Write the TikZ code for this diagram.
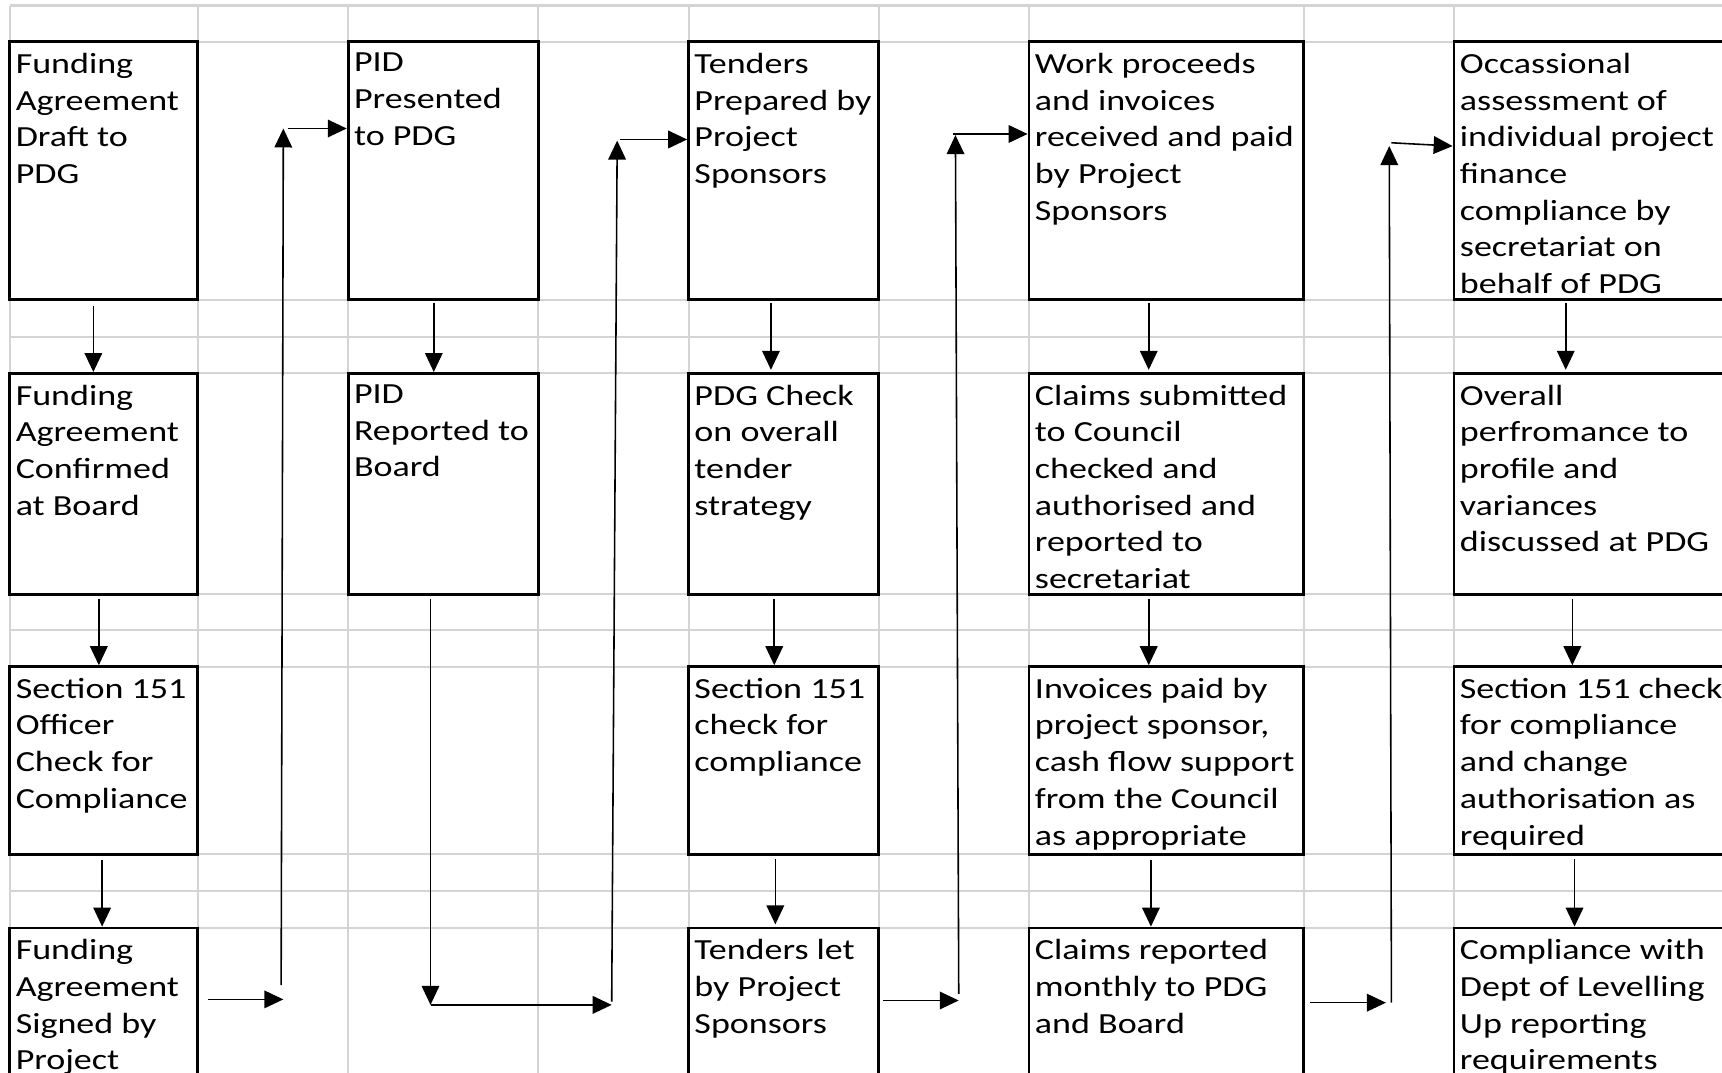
\documentclass[tikz,border=0pt]{standalone}
\usepackage{fontspec}
\setmainfont{Carlito}[FakeStretch=1.235]
\usetikzlibrary{arrows.meta,calc,fit}

\newcommand{\cellfont}{\fontsize{8.3}{10.44}\selectfont}

\begin{document}
\begin{tikzpicture}[x=0.10982mm,y=-0.10982mm,
  sheet/.style={draw=black!17,line width=0.6pt},
  box/.style={draw,line width=0.8pt,fill=white,inner sep=0pt},
  txt/.style={anchor=north west,inner sep=0pt,align=left,font=\cellfont,execute at begin node=\strut},
  arr/.style={-{Triangle[length=5.4pt,width=5pt]},line width=0.45pt}]
\useasboundingbox (0,0) rectangle (1568,977);
\clip (0,0) rectangle (1568,977);

% spreadsheet grid
\foreach \gx in {9,180,317,490,627,800,937,1187,1324}
  \draw[sheet] (\gx,5) -- (\gx,1000);
\foreach \gy in {5,38,273,306.5,340,541,574,607,778,811,845}
  \draw[sheet] (9,\gy) -- (1640,\gy);

% column 1
\node[box,fit={(9,38)(180,273)}] (draft) {};
\node[txt] (draft-t) at ([shift={(6,11)}]draft.north west) {Funding\\Agreement\\Draft to\\PDG};
\node[box,fit={(9,340)(180,541)}] (confirmed) {};
\node[txt] (confirmed-t) at ([shift={(6,11)}]confirmed.north west) {Funding\\Agreement\\Confirmed\\at Board};
\node[box,fit={(9,607)(180,778)}] (officer) {};
\node[txt] (officer-t) at ([shift={(6,11)}]officer.north west) {Section 151\\Officer\\Check for\\Compliance};
\node[box,fit={(9,845)(180,1090)}] (signed) {};
\node[txt] (signed-t) at ([shift={(6,11)}]signed.north west) {Funding\\Agreement\\Signed by\\Project};

% column 2
\node[box,fit={(317,38)(490,273)}] (presented) {};
\node[txt] (presented-t) at ([shift={(6,11)}]presented.north west) {PID\\Presented\\to PDG};
\node[box,fit={(317,340)(490,541)}] (reported) {};
\node[txt] (reported-t) at ([shift={(6,11)}]reported.north west) {PID\\Reported to\\Board};

% column 3
\node[box,fit={(627,38)(800,273)}] (prepared) {};
\node[txt] (prepared-t) at ([shift={(6,11)}]prepared.north west) {Tenders\\Prepared by\\Project\\Sponsors};
\node[box,fit={(627,340)(800,541)}] (strategy) {};
\node[txt] (strategy-t) at ([shift={(6,11)}]strategy.north west) {PDG Check\\on overall\\tender\\strategy};
\node[box,fit={(627,607)(800,778)}] (tcheck) {};
\node[txt] (tcheck-t) at ([shift={(6,11)}]tcheck.north west) {Section 151\\check for\\compliance};
\node[box,fit={(627,845)(800,1090)}] (let) {};
\node[txt] (let-t) at ([shift={(6,11)}]let.north west) {Tenders let\\by Project\\Sponsors};

% column 4
\node[box,fit={(937,38)(1187,273)}] (proceeds) {};
\node[txt] (proceeds-t) at ([shift={(6,11)}]proceeds.north west) {Work proceeds\\and invoices\\received and paid\\by Project\\Sponsors};
\node[box,fit={(937,340)(1187,541)}] (claims) {};
\node[txt] (claims-t) at ([shift={(6,11)}]claims.north west) {Claims submitted\\to Council\\checked and\\authorised and\\reported to\\secretariat};
\node[box,fit={(937,607)(1187,778)}] (invoices) {};
\node[txt] (invoices-t) at ([shift={(6,11)}]invoices.north west) {Invoices paid by\\project sponsor,\\cash flow support\\from the Council\\as appropriate};
\node[box,fit={(937,845)(1187,1090)}] (monthly) {};
\node[txt] (monthly-t) at ([shift={(6,11)}]monthly.north west) {Claims reported\\monthly to PDG\\and Board};

% column 5
\node[box,fit={(1324,38)(1640,273)}] (assess) {};
\node[txt] (assess-t) at ([shift={(6,11)}]assess.north west) {Occassional\\assessment of\\individual project\\finance\\compliance by\\secretariat on\\behalf of PDG};
\node[box,fit={(1324,340)(1640,541)}] (overall) {};
\node[txt] (overall-t) at ([shift={(6,11)}]overall.north west) {Overall\\perfromance to\\profile and\\variances\\discussed at PDG};
\node[box,fit={(1324,607)(1640,778)}] (scheck) {};
\node[txt] (scheck-t) at ([shift={(6,11)}]scheck.north west) {Section 151 check\\for compliance\\and change\\authorisation as\\required};
\node[box,fit={(1324,845)(1640,1090)}] (dlu) {};
\node[txt] (dlu-t) at ([shift={(6,11)}]dlu.north west) {Compliance with\\Dept of Levelling\\Up reporting\\requirements};

% down the columns
\draw[arr] ([shift={(-9.5,4)}]draft.south) -- ([shift={(-9.5,0)}]confirmed.north);
\draw[arr] ([shift={(-4.5,3)}]confirmed.south) -- ([shift={(-4.5,0)}]officer.north);
\draw[arr] ([shift={(-1.5,4)}]officer.south) -- ([shift={(-1.5,0)}]signed.north);
\draw[arr] ([shift={(-8.5,2)}]presented.south) -- ([shift={(-8.5,0)}]reported.north);
\draw[arr] ([shift={(-11.5,2)}]prepared.south) -- ([shift={(-11.5,-2)}]strategy.north);
\draw[arr] ([shift={(-8.5,3)}]strategy.south) -- ([shift={(-8.5,0)}]tcheck.north);
\draw[arr] ([shift={(-7.5,3)}]tcheck.south) -- ([shift={(-7.5,-2)}]let.north);
\draw[arr] ([shift={(-16,2)}]proceeds.south) -- ([shift={(-16,-2)}]claims.north);
\draw[arr] ([shift={(-16,3)}]claims.south) -- ([shift={(-16,0)}]invoices.north);
\draw[arr] ([shift={(-14,4)}]invoices.south) -- ([shift={(-14,0)}]monthly.north);
\draw[arr] ([shift={(103,2)}]assess.south west) -- ([shift={(103,-2)}]overall.north west);
\draw[arr] ([shift={(109,3)}]overall.south west) -- ([shift={(109,0)}]scheck.north west);
\draw[arr] ([shift={(111,3)}]scheck.south west) -- ([shift={(111,0)}]dlu.north west);

% across to the next column
\coordinate (a1) at (258,910);
\coordinate (a2) at (256,897);
\coordinate (a3) at (258,117);
\coordinate (a4) at (262,117);
\draw[arr] ($(signed.east |- a1)+(8,0)$) -- (a1);
\draw[arr] (a2) -- (a3);
\draw[arr] (a4) -- (presented.west |- a4);

\coordinate (b1) at (392,915);
\coordinate (b2) at (557,915);
\coordinate (b3) at (557,912);
\coordinate (b4) at (562,128);
\coordinate (b5) at (565,127);
\draw[arr] ($(reported.south -| b1)+(0,3)$) -- (b1);
\draw[arr] (b1) -- (b2);
\draw[arr] (b3) -- (b4);
\draw[arr] (b5) -- (prepared.west |- b5);

\coordinate (c1) at (873,911);
\coordinate (c2) at (873,905);
\coordinate (c3) at (870,123);
\coordinate (c4) at (868,122);
\draw[arr] ($(let.east |- c1)+(3,0)$) -- (c1);
\draw[arr] (c2) -- (c3);
\draw[arr] (c4) -- (proceeds.west |- c4);

\coordinate (d1) at (1262,913);
\coordinate (d2) at (1267,913);
\coordinate (d3) at (1265,133);
\coordinate (d4) at (1267,130);
\draw[arr] ($(monthly.east |- d1)+(5,0)$) -- (d1);
\draw[arr] (d2) -- (d3);
\draw[arr] (d4) -- ($(assess.west |- d4)+(0,3)$);
\end{tikzpicture}
\end{document}
